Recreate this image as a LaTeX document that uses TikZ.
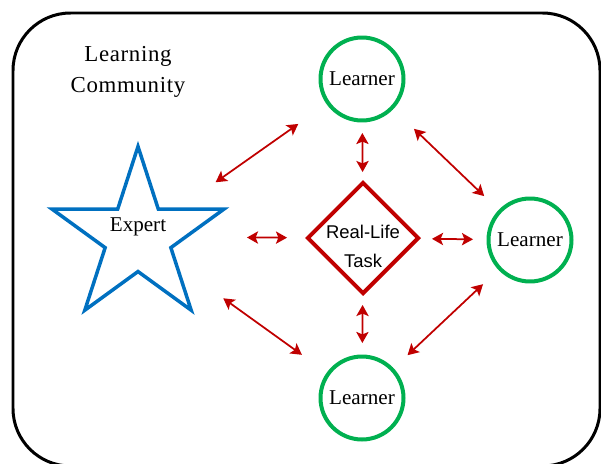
\documentclass[tikz,border=0pt]{standalone}
\usepackage{fontspec}
\setmainfont{Liberation Serif}
\newfontfamily\taskfont{Liberation Sans}
\usetikzlibrary{arrows.meta,shapes.geometric}
\definecolor{learnergreen}{RGB}{0,176,80}
\definecolor{expertblue}{RGB}{0,112,192}
\definecolor{taskred}{RGB}{192,0,0}

\begin{document}
\begin{tikzpicture}[x=0.02cm,y=-0.02cm,
    learner/.style={circle,draw=learnergreen,line width=0.08cm,
      minimum size=1.66cm,inner sep=0pt,font=\fontsize{12}{14}\selectfont},
    expert/.style={star,star points=5,star point ratio=2.62,
      draw=expertblue,line width=0.07cm,minimum size=3.62cm,inner sep=0pt},
    task/.style={diamond,draw=taskred,line width=0.08cm,
      minimum width=2.24cm,minimum height=2.24cm,inner sep=0pt},
    link/.style={taskred,line width=0.035cm,
      {Stealth[length=6.3pt,width=7pt,inset=1.4pt]}-{Stealth[length=6.3pt,width=7pt,inset=1.4pt]}}]
       \useasboundingbox (0,0) rectangle (601,463);
       \draw[line width=0.06cm,rounded corners=1.15cm] (13,13) rectangle (600,466);
       \node[align=center,
         font=\addfontfeature{LetterSpace=3}\fontsize{13}{17.6}\selectfont]
         (community) at (128,72) {Learning\\Community};
       \node[expert,label={[yshift=0.2cm,font=\fontsize{12}{14}\selectfont]center:Expert}]
         (expert) at (138,237) {};
       \node[task,label={[yshift=-0.16cm,align=center,
         font=\taskfont\fontsize{10.5}{16.5}\selectfont]center:{Real-Life\\Task}}]
         (task) at (363,238) {};
       \node[learner] (top) at (362,79) {Learner};
       \node[learner] (right) at (530,240) {Learner};
       \node[learner] (bottom) at (362,398) {Learner};
       \draw[link,shorten <=1.9cm,shorten >=1.56cm] (expert.center) -- (top.center);
       \draw[link,shorten <=1.44cm,shorten >=1.27cm] (top.center) -- (right.center);
       \draw[link,shorten <=1.08cm,shorten >=1.32cm] (top.center) -- (task.center);
       \draw[link,shorten <=2.18cm,shorten >=1.52cm] (expert.center) -- (task.center);
       \draw[link,shorten <=1.38cm,shorten >=1.14cm] (task.center) -- (right.center);
       \draw[link,shorten <=1.34cm,shorten >=1.10cm] (task.center) -- (bottom.center);
       \draw[link,shorten <=2.10cm,shorten >=1.48cm] (expert.center) -- (bottom.center);
       \draw[link,shorten <=1.29cm,shorten >=1.25cm] (right.center) -- (bottom.center);
\end{tikzpicture}
\end{document}
